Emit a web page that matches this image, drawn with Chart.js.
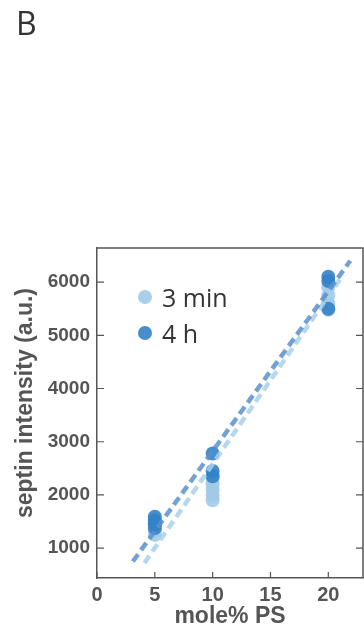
<!DOCTYPE html>
<html lang="en">
<head>
    <meta charset="UTF-8">
    <title>Septin intensity vs mole% PS</title>
    <script src="https://cdn.jsdelivr.net/npm/chart.js"></script>
    <style>
        html, body { margin: 0; padding: 0; background: #fff; overflow: hidden; }
        #wrap { width: 364px; height: 633px; overflow: hidden; }
    </style>
</head>
<body>
<div id="wrap">
    <canvas id="septinChart" width="370" height="633"></canvas>
</div>

<script>
    // data
    const x3min = [5, 5, 5, 5, 10, 10, 10, 10, 10, 20, 20, 20, 20];
    const y3min = [1250, 1330, 1420, 1480, 1900, 2000, 2100, 2200, 2300, 5480, 5600, 5750, 5900];
    const x4h = [5, 5, 5, 5, 10, 10, 10, 20, 20, 20];
    const y4h = [1380, 1450, 1520, 1590, 2350, 2450, 2780, 5500, 6020, 6100];

    // dashed fit lines (end points)
    const fitX3min = [4.1, 21.0];
    const fitY3min = [720, 6050];
    const fitX4h = [3.1, 21.9];
    const fitY4h = [750, 6400];

    const xTicks = [0, 5, 10, 15, 20];
    const yTicks = [1000, 2000, 3000, 4000, 5000, 6000];
    const legendLabels = ["3 min", "4 h"];

    const lightBlue = "rgba(160, 202, 232, 0.9)";
    const darkBlue = "rgba(52, 130, 198, 0.9)";
    const axisColor = "#555";

    const pts = (xs, ys) => xs.map((x, i) => ({ x: x, y: ys[i] }));

    const decor = {
        id: "decor",
        afterDraw(chart) {
            const ctx = chart.ctx;
            const a = chart.chartArea;
            const xs = chart.scales.x, ys = chart.scales.y;
            ctx.save();
            ctx.strokeStyle = axisColor;
            ctx.lineWidth = 1.5;
            // top + right border
            ctx.beginPath();
            ctx.moveTo(a.left, a.top);
            ctx.lineTo(a.right, a.top);
            ctx.lineTo(a.right, a.bottom);
            ctx.stroke();
            // inward ticks
            ctx.lineWidth = 1.2;
            ctx.beginPath();
            xTicks.forEach(v => {
                const p = xs.getPixelForValue(v);
                ctx.moveTo(p, a.bottom);
                ctx.lineTo(p, a.bottom - 6);
            });
            yTicks.forEach(v => {
                const p = ys.getPixelForValue(v);
                ctx.moveTo(a.left, p);
                ctx.lineTo(a.left + 7, p);
                ctx.moveTo(a.right, p);
                ctx.lineTo(a.right - 7, p);
            });
            ctx.stroke();

            // axis titles
            ctx.fillStyle = axisColor;
            ctx.font = "bold 23px 'Liberation Sans', Arial, sans-serif";
            ctx.textAlign = "center";
            ctx.textBaseline = "middle";
            ctx.fillText("mole% PS", (a.left + a.right) / 2, 617);
            ctx.save();
            ctx.translate(26, 403);
            ctx.rotate(-Math.PI / 2);
            ctx.fillText("septin intensity (a.u.)", 0, 0);
            ctx.restore();

            // panel letter
            ctx.fillStyle = "#333";
            ctx.font = "32px 'Open Sans', sans-serif";
            ctx.textAlign = "left";
            ctx.textBaseline = "alphabetic";
            ctx.fillText("B", 16, 35);

            // legend inside the plot
            const rows = [[lightBlue, 297, 307], [darkBlue, 333, 343]];
            ctx.font = "25px 'Open Sans', sans-serif";
            legendLabels.forEach((lab, i) => {
                const r = rows[i];
                ctx.fillStyle = r[0];
                ctx.beginPath();
                ctx.arc(145, r[1], 7, 0, Math.PI * 2);
                ctx.fill();
                ctx.fillStyle = "#333";
                ctx.fillText(lab, 162, r[2]);
            });
            ctx.restore();
        }
    };

    new Chart(document.getElementById("septinChart"), {
        type: "scatter",
        data: {
            datasets: [
                {
                    label: "3 min",
                    data: pts(x3min, y3min),
                    backgroundColor: lightBlue,
                    borderWidth: 0,
                    pointRadius: 7,
                    order: 3
                },
                {
                    label: "4 h",
                    data: pts(x4h, y4h),
                    backgroundColor: darkBlue,
                    borderWidth: 0,
                    pointRadius: 7,
                    order: 2
                },
                {
                    label: "fit 3 min",
                    data: pts(fitX3min, fitY3min),
                    showLine: true,
                    borderColor: "rgba(170, 208, 236, 0.85)",
                    borderWidth: 4.5,
                    borderDash: [9, 5],
                    pointRadius: 0,
                    order: 1
                },
                {
                    label: "fit 4 h",
                    data: pts(fitX4h, fitY4h),
                    showLine: true,
                    borderColor: "rgba(90, 145, 205, 0.85)",
                    borderWidth: 4.5,
                    borderDash: [9, 5],
                    pointRadius: 0,
                    order: 0
                }
            ]
        },
        options: {
            responsive: false,
            animation: false,
            devicePixelRatio: 1,
            layout: { padding: { top: 248, left: 0, right: 3, bottom: 0 } },
            plugins: {
                legend: { display: false },
                tooltip: { enabled: false }
            },
            scales: {
                x: {
                    type: "linear",
                    min: 0,
                    max: 23,
                    afterBuildTicks: s => { s.ticks = xTicks.map(v => ({ value: v })); },
                    afterFit: s => { s.height = 55; },
                    grid: { drawOnChartArea: false, drawTicks: false },
                    border: { color: axisColor, width: 1.5 },
                    ticks: {
                        padding: 5,
                        color: axisColor,
                        callback: v => String(v),
                        font: { family: "'Liberation Sans', Arial, sans-serif", size: 20, weight: "bold" }
                    }
                },
                y: {
                    min: 440,
                    max: 6640,
                    afterBuildTicks: s => { s.ticks = yTicks.map(v => ({ value: v })); },
                    afterFit: s => { s.width = 97; },
                    grid: { drawOnChartArea: false, drawTicks: false },
                    border: { color: axisColor, width: 1.5 },
                    ticks: {
                        padding: 7,
                        color: axisColor,
                        callback: v => String(v),
                        font: { family: "'Liberation Sans', Arial, sans-serif", size: 19, weight: "bold" }
                    }
                }
            }
        },
        plugins: [decor]
    });
</script>
</body>
</html>
